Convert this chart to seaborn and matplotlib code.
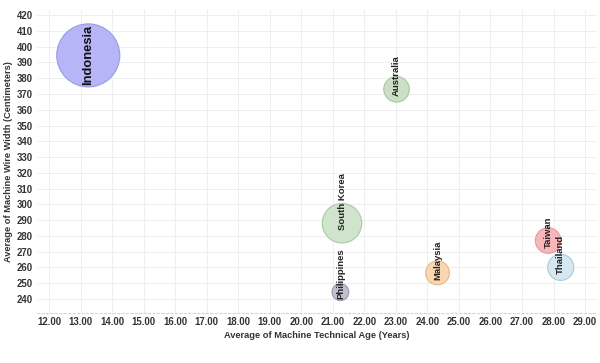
import pandas as pd
import matplotlib
matplotlib.use("Agg")
import matplotlib.pyplot as plt
import seaborn as sns

# data
countries = ["Indonesia", "Australia", "South Korea", "Philippines", "Malaysia", "Taiwan", "Thailand"]
tech_age = [13.24, 23.02, 21.29, 21.24, 24.32, 27.83, 28.23]       # years
wire_width = [394.5, 373.0, 288.0, 244.3, 256.5, 277.0, 260.0]     # cm
bubble_value = [14.0, 2.3, 5.5, 1.0, 2.0, 2.3, 2.4]

x_ticks = [12, 13, 14, 15, 16, 17, 18, 19, 20, 21, 22, 23, 24, 25, 26, 27, 28, 29]
y_ticks = list(range(240, 430, 10))

fill_colors = {
    "Indonesia": "#b5b5f7", "Australia": "#cadfc3", "South Korea": "#cfe3cd",
    "Philippines": "#c0bfd0", "Malaysia": "#fcd6b0", "Taiwan": "#f8b6bb",
    "Thailand": "#d5e7f1",
}
edge_colors = {
    "Indonesia": "#9a9ae0", "Australia": "#aac6a2", "South Korea": "#aacaa6",
    "Philippines": "#9c9aae", "Malaysia": "#e3b88e", "Taiwan": "#e39a9f",
    "Thailand": "#adc9d8",
}

df = pd.DataFrame({"country": countries, "age": tech_age,
                   "width": wire_width, "value": bubble_value})

sns.set_theme(style="whitegrid")
plt.rcParams["font.family"] = ["Liberation Sans", "DejaVu Sans"]

fig = plt.figure(figsize=(6, 3.63), dpi=100)
ax = fig.add_axes([0.062, 0.138, 0.933, 0.834])

max_area = 2060
sns.scatterplot(data=df, x="age", y="width", hue="country", palette=fill_colors,
                size="value", sizes=(0, max_area), size_norm=(0, max(bubble_value)),
                legend=False, linewidth=0.8, alpha=1, ax=ax, zorder=3)
ax.collections[0].set_edgecolor([edge_colors[c] for c in df["country"]])

# rotated labels
for _, row in df.iterrows():
    if row["country"] == "Indonesia":
        ax.text(row["age"], row["width"], row["country"], rotation=90,
                ha="center", va="center", fontsize=9.3, fontweight="bold",
                color="#111111", zorder=4)
    else:
        ax.annotate(row["country"], (row["age"], row["width"]), xytext=(0, -5),
                    textcoords="offset points", rotation=90, ha="center",
                    va="bottom", fontsize=6.8, fontweight="bold",
                    color="#222222", zorder=4)

ax.set_xlim(11.62, 29.38)
ax.set_ylim(231.1, 423.2)
ax.set_xticks(x_ticks)
ax.set_xticklabels([f"{t:.2f}" for t in x_ticks])
ax.set_yticks(y_ticks)
ax.tick_params(axis="both", length=0, labelsize=6.9, colors="#333333")
ax.tick_params(axis="x", pad=3)
ax.tick_params(axis="y", pad=3)
for lab in ax.get_xticklabels() + ax.get_yticklabels():
    lab.set_fontweight("bold")

ax.grid(True, color="#ececec", linewidth=0.6)
for s in ["top", "right", "left"]:
    ax.spines[s].set_visible(False)
ax.spines["bottom"].set_color("#d5d5d5")
ax.spines["bottom"].set_linestyle((0, (2, 2)))
ax.spines["bottom"].set_linewidth(0.8)

ax.set_xlabel("Average of Machine Technical Age (Years)", fontsize=6.7,
              fontweight="bold", color="#333333", labelpad=3)
ax.set_ylabel("Average of Machine Wire Width (Centimeters)", fontsize=6.7,
              fontweight="bold", color="#333333", labelpad=3)

fig.savefig("out.png", dpi=100)
